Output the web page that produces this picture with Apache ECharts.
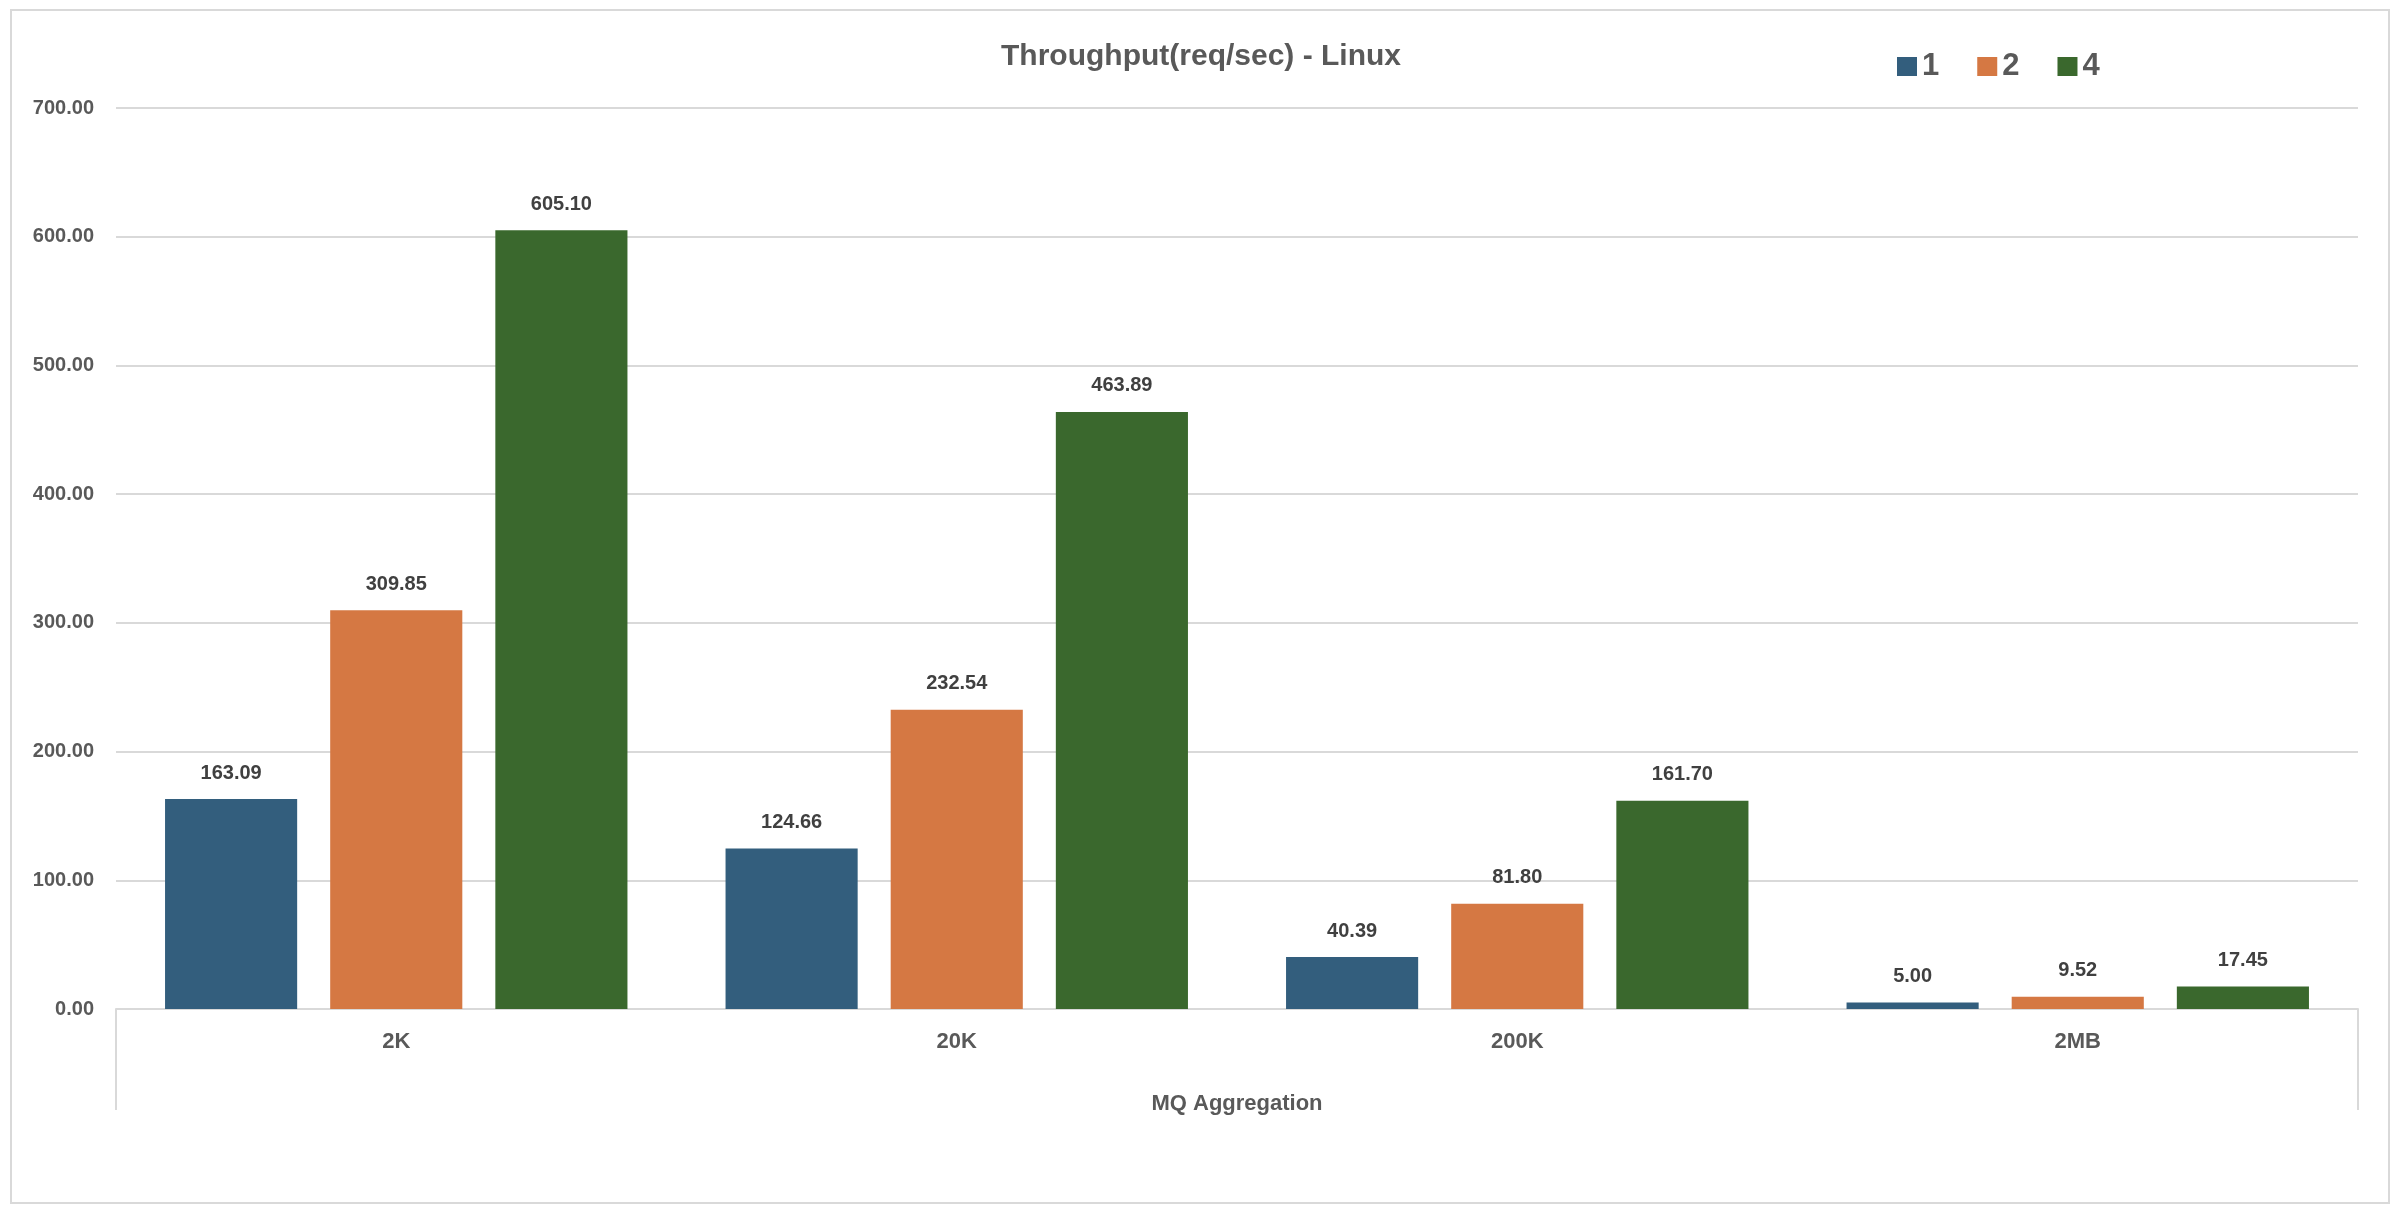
<!DOCTYPE html>
<html>
<head>
<meta charset="utf-8">
<script src="https://cdn.jsdelivr.net/npm/echarts@6/dist/echarts.min.js"></script>
<style>
  html, body { margin: 0; padding: 0; background: #fff; }
  #chart { width: 2402px; height: 1216px; }
</style>
</head>
<body>
<div id="chart"></div>
<script>
// MQ aggregation sizes on the x axis
var categories = ['2K', '20K', '200K', '2MB'];
var seriesNames = ['1', '2', '4'];
var values1 = [163.09, 124.66, 40.39, 5.00];
var values2 = [309.85, 232.54, 81.80, 9.52];
var values4 = [605.10, 463.89, 161.70, 17.45];
var colors = ['#335E7D', '#D57843', '#3A682D'];

var font = 'Liberation Sans';
var gridLeft = 116, gridRight = 44, gridTop = 108, gridBottom = 207;

function makeSeries(name, data, color) {
  return {
    name: name,
    type: 'bar',
    data: data,
    barGap: '25%',
    barCategoryGap: '17.5%',
    itemStyle: { color: color },
    label: {
      show: true,
      position: 'top',
      distance: 16,
      color: '#404040',
      fontFamily: font,
      fontWeight: 'bold',
      fontSize: 20,
      formatter: function (p) { return p.value.toFixed(2); }
    }
  };
}

var chart = echarts.init(document.getElementById('chart'));
chart.setOption({
  animation: false,
  backgroundColor: '#fff',
  title: {
    text: 'Throughput(req/sec) - Linux',
    left: 'center',
    top: 37,
    textStyle: { fontFamily: font, fontWeight: 'bold', fontSize: 30, color: '#595959' }
  },
  legend: {
    data: seriesNames,
    left: 1892,
    top: 46,
    itemWidth: 20,
    itemHeight: 19,
    itemGap: 38,
    icon: 'rect',
    textStyle: { fontFamily: font, fontWeight: 'bold', fontSize: 31, color: '#595959' }
  },
  grid: { left: gridLeft, right: gridRight, top: gridTop, bottom: gridBottom, containLabel: false },
  xAxis: {
    type: 'category',
    data: categories,
    name: 'MQ Aggregation',
    nameLocation: 'middle',
    nameGap: 84,
    nameTextStyle: { fontFamily: font, fontWeight: 'bold', fontSize: 22, color: '#595959' },
    axisLine: { lineStyle: { color: '#D9D9D9', width: 2 } },
    axisTick: { show: false },
    axisLabel: { margin: 22, fontFamily: font, fontWeight: 'bold', fontSize: 22, color: '#595959' }
  },
  yAxis: {
    type: 'value',
    min: 0,
    max: 700,
    interval: 100,
    axisLine: { show: false },
    axisTick: { show: false },
    splitLine: { lineStyle: { color: '#D9D9D9', width: 2 } },
    axisLabel: {
      margin: 22,
      fontFamily: font, fontWeight: 'bold', fontSize: 20, color: '#595959',
      formatter: function (v) { return v.toFixed(2); }
    }
  },
  series: [
    makeSeries(seriesNames[0], values1, colors[0]),
    makeSeries(seriesNames[1], values2, colors[1]),
    makeSeries(seriesNames[2], values4, colors[2])
  ],
  graphic: [
    // outer chart border
    { type: 'rect', shape: { x: 11, y: 10, width: 2378, height: 1193 },
      style: { fill: 'none', stroke: '#D9D9D9', lineWidth: 2 }, silent: true },
    // category bracket ends under the axis
    { type: 'line', shape: { x1: gridLeft, y1: 1216 - gridBottom, x2: gridLeft, y2: 1110 },
      style: { stroke: '#D9D9D9', lineWidth: 2 }, silent: true },
    { type: 'line', shape: { x1: 2402 - gridRight, y1: 1216 - gridBottom, x2: 2402 - gridRight, y2: 1110 },
      style: { stroke: '#D9D9D9', lineWidth: 2 }, silent: true }
  ]
});
window.onresize = chart.resize;
</script>
</body>
</html>
